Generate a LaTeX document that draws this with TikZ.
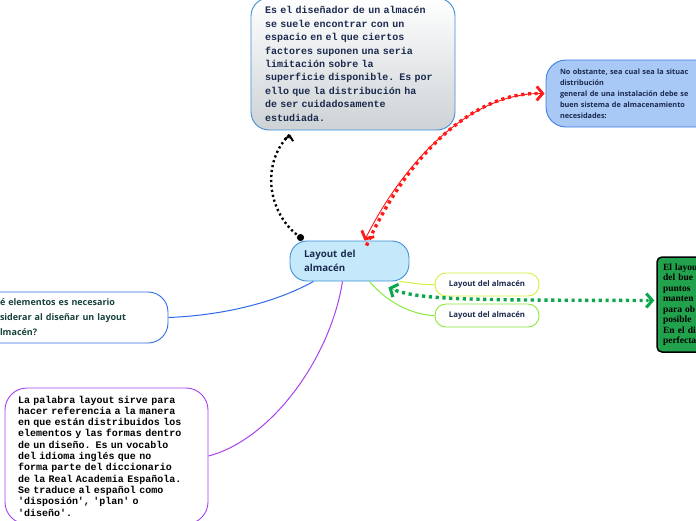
\documentclass[tikz,border=0pt]{standalone}
\usepackage{fontspec}
\setmainfont{Open Sans}
\newfontfamily\monof{Liberation Mono}
\newfontfamily\seriff{Liberation Serif}
\usetikzlibrary{arrows.meta,calc}
\definecolor{navy}{HTML}{1B2A4E}
\definecolor{boxblue}{HTML}{3F8FD6}
\definecolor{rtfill}{HTML}{A8C8F5}
\definecolor{rtdraw}{HTML}{3C7EE6}
\definecolor{cfill}{HTML}{C5E9FB}
\definecolor{ygreen}{HTML}{D4F03A}
\definecolor{lgreen}{HTML}{8AE83A}
\definecolor{gfill}{HTML}{22A24C}
\definecolor{qblue}{HTML}{2F6AE8}
\definecolor{qtext}{HTML}{17423C}
\definecolor{purp}{HTML}{A642F0}
\definecolor{redc}{HTML}{FF1A1A}
\definecolor{gdot}{HTML}{0AA84A}
\definecolor{gtop}{HTML}{FFFFFF}
\definecolor{gmid}{HTML}{E9ECEE}
\definecolor{gbot}{HTML}{CDD2D5}
\tikzset{
  basebox/.style={rounded corners=18pt, line width=0.9pt, align=left, inner ysep=0pt},
  topbox/.style={basebox, draw=boxblue, top color=gtop, middle color=gmid, bottom color=gbot,
    minimum width=204pt, minimum height=132pt, inner xsep=14pt, text width=176pt,
    text=navy, font=\monof\bfseries\fontsize{10}{13.4}\selectfont},
  rtbox/.style={basebox, rounded corners=20pt, draw=rtdraw, fill=rtfill,
    minimum width=194pt, minimum height=67pt, inner xsep=14pt, text width=166pt,
    text=navy, font=\bfseries\fontsize{7.3}{11}\selectfont},
  cbox/.style={basebox, rounded corners=17pt, draw=boxblue, fill=cfill,
    minimum width=119pt, minimum height=40pt, inner xsep=14pt, text width=91pt,
    text=navy, font=\bfseries\fontsize{9.7}{14}\selectfont},
  smallbox/.style={rounded corners=11pt, line width=0.9pt, fill=white,
    minimum width=104pt, minimum height=23pt, inner sep=0pt, align=center,
    text=navy, font=\bfseries\fontsize{7.8}{9}\selectfont},
  gbox/.style={basebox, rounded corners=5pt, draw=black, line width=1.5pt, fill=gfill,
    minimum width=63pt, minimum height=95pt, inner xsep=6pt, text width=51pt,
    text=black, font=\seriff\bfseries\fontsize{9.5}{10.5}\selectfont},
  qbox/.style={basebox, rounded corners=20pt, draw=qblue, fill=white,
    minimum width=188pt, minimum height=51pt, inner xsep=20pt, text width=148pt,
    text=qtext, font=\bfseries\fontsize{9}{15}\selectfont},
  pbox/.style={basebox, rounded corners=22pt, draw=purp, fill=white,
    minimum width=203pt, minimum height=136pt, inner xsep=13pt, text width=177pt,
    text=black, font=\monof\bfseries\fontsize{10}{11.3}\selectfont},
  bigdots/.style={line width=3.4pt, dash pattern=on 3.2pt off 3.6pt},
  chev/.style={-{Straight Barb[length=6pt,width=14pt,line width=3pt]}},
}
\begin{document}
\begin{tikzpicture}[x=1pt,y=-1pt]
\useasboundingbox (0,0) rectangle (696,520);
\clip (0,0) rectangle (696,520);
\fill[white] (0,0) rectangle (696,520);

\node[topbox] (top) at (353,64) {Es el diseñador de un almacén\\se suele encontrar con un\\espacio en el que ciertos\\factores suponen una seria\\limitación sobre la\\superficie disponible. Es por\\ello que la distribución ha\\de ser cuidadosamente\\estudiada.};
\node[rtbox] (rt) at (643,93.5) {No obstante, sea cual sea la situac\\distribución\\general de una instalación debe se\\buen sistema de almacenamiento\\necesidades:};
\node[qbox] (q) at (74,317.5) {é elementos es necesario\\siderar al diseñar un layout\\lmacén?};
\node[pbox] (p) at (106.5,456) {La palabra layout sirve para\\hacer referencia a la manera\\en que están distribuidos los\\elementos y las formas dentro\\de un diseño. Es un vocablo\\del idioma inglés que no\\forma parte del diccionario\\de la Real Academia Española.\\Se traduce al español como\\'disposión', 'plan' o\\'diseño'.};
\node[gbox] (g) at (688.5,304.5) {El layou\\del bue\\puntos\\manten\\para ob\\posible\\En el di\\perfecta};
\node[smallbox, draw=ygreen] (s1) at (487,284.5) {Layout del almacén};
\node[smallbox, draw=lgreen] (s2) at (487,315.5) {Layout del almacén};
\node[cbox] (c) at (349.5,261) {Layout del\\almacén};

% plain branches
\draw[qblue, line width=1pt] (q.east) .. controls (230,315) and (280,300) .. ([xshift=-36pt]c.south);
\draw[purp, line width=1pt] ([xshift=-7pt]c.south) .. controls (330,360) and (270,440) .. (p.east);
\draw[ygreen, line width=1pt] ([xshift=-10pt]c.south east) .. controls (415,283) and (420,285) .. (s1.west);
\draw[lgreen, line width=1pt] ([xshift=20pt]c.south) .. controls (385,300) and (410,315) .. (s2.west);

% black dotted link
\draw[black, line width=2.4pt, dash pattern=on 2.2pt off 2.8pt]
  ([xshift=-49pt,yshift=3pt]c.north) .. controls (265,212) and (262,160) .. ([xshift=-63pt,yshift=-4pt]top.south);
\draw[black, line width=0.5pt, -{Straight Barb[length=4.5pt,width=9pt,line width=2pt]}]
  (289,139) -- ([xshift=-63pt,yshift=-4pt]top.south);
\fill[black] ([xshift=-49pt,yshift=3pt]c.north) circle (3.6pt);

% red link
\draw[redc, bigdots] ([xshift=17pt,yshift=-5pt]c.north) .. controls (405,160) and (470,93) .. ([xshift=-8pt]rt.west);
\draw[redc, line width=0.9pt, {Straight Barb[length=6pt,width=14pt,line width=2.8pt]}-{Straight Barb[length=6pt,width=14pt,line width=2.8pt]}]
  ([xshift=15pt]c.north) .. controls (405,160) and (470,93) .. ([xshift=-1pt]rt.west);

% green dotted link
\draw[gdot, bigdots] ([shift={(-14pt,-9pt)}]c.south east) .. controls (425,300) and (470,300) .. ([shift={(-8pt,4pt)}]g.west);
\draw[gdot, line width=0.3pt, chev] ([shift={(-12pt,-10pt)}]c.south east) -- ([shift={(-21pt,-6pt)}]c.south east);
\draw[gdot, line width=0.3pt, chev] ([shift={(-10pt,4pt)}]g.west) -- ([shift={(-2pt,4pt)}]g.west);
\end{tikzpicture}
\end{document}
